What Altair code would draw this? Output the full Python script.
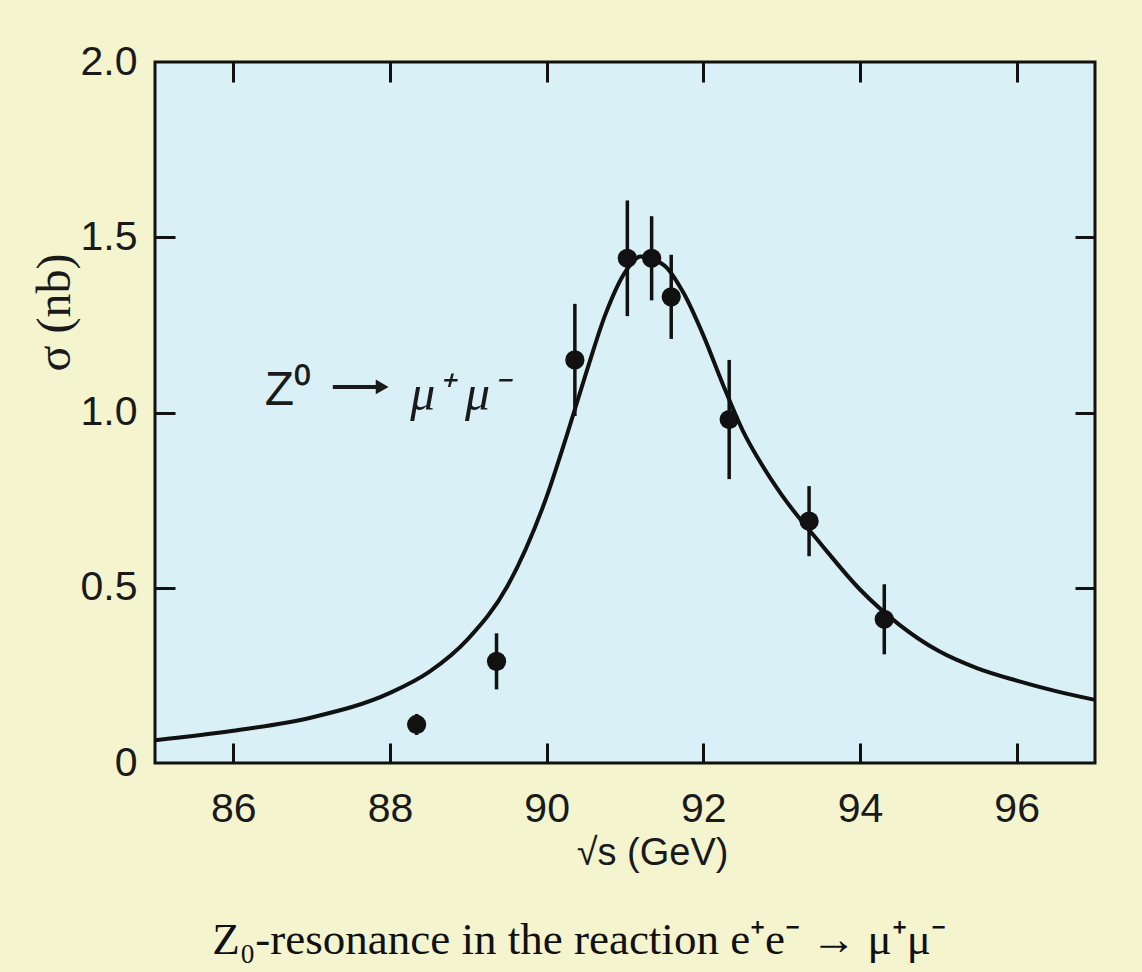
import altair as alt
import pandas as pd

# Measured muon-pair cross sections (sqrt(s) in GeV, sigma in nb, +/- error)
energy = [88.34, 89.36, 90.36, 91.03, 91.34, 91.59, 92.33, 93.35, 94.31]
sigma = [0.11, 0.29, 1.15, 1.44, 1.44, 1.33, 0.98, 0.69, 0.41]
sigma_err = [0.03, 0.08, 0.16, 0.165, 0.12, 0.12, 0.17, 0.10, 0.10]

# Fitted resonance line shape
curve_energy = [85.0, 86.0, 87.0, 88.0, 88.5, 89.0, 89.5, 90.0, 90.25, 90.5,
                90.75, 91.0, 91.2, 91.5, 91.75, 92.0, 92.25, 92.5, 92.75, 93.0,
                93.5, 94.0, 94.5, 95.0, 95.5, 96.0, 96.5, 97.0]
curve_sigma = [0.065, 0.092, 0.13, 0.20, 0.26, 0.355, 0.505, 0.76, 0.93, 1.11,
               1.28, 1.40, 1.445, 1.42, 1.34, 1.22, 1.08, 0.95, 0.85, 0.765,
               0.625, 0.495, 0.395, 0.32, 0.27, 0.235, 0.205, 0.18]

x_ticks = [86, 88, 90, 92, 94, 96]
y_ticks = [0, 0.5, 1.0, 1.5, 2.0]
y_inner_ticks = [0.5, 1.0, 1.5]

points = pd.DataFrame({
    "E": energy,
    "S": sigma,
    "lo": [s - e for s, e in zip(sigma, sigma_err)],
    "hi": [s + e for s, e in zip(sigma, sigma_err)],
})
curve = pd.DataFrame({"E": curve_energy, "S": curve_sigma})

INK = "#111111"
LABEL_FONT = "Liberation Sans Narrow, Arial Narrow, Liberation Sans, sans-serif"
SERIF = "Liberation Serif, Times New Roman, serif"

xs = alt.Scale(domain=[85, 97], nice=False, zero=False)
ys = alt.Scale(domain=[0, 2.0], nice=False, zero=True)

TICK_LEN = 20

# Axes that carry labels and titles (no ticks, no domain: the frame is the view stroke)
x_label_axis = alt.Axis(
    values=x_ticks, orient="bottom", domain=False, ticks=False, tickSize=0,
    grid=False, labelPadding=26, labelFont=LABEL_FONT, labelFontSize=41,
    labelColor="#1a1a1a", title="√s (GeV)", titleFont=LABEL_FONT, titleFontSize=38,
    titleFontWeight="normal", titleColor="#1a1a1a", titleX=497, titleY=90,
    titleBaseline="middle", titleAlign="center",
)
y_label_axis = alt.Axis(
    values=y_ticks, orient="left", domain=False, ticks=False, tickSize=0,
    grid=False, labelPadding=18, labelFont=LABEL_FONT, labelFontSize=41,
    labelColor="#1a1a1a",
    labelExpr="datum.value == 0 ? '0' : format(datum.value, '.1f')",
    title="σ (nb)", titleFont=SERIF, titleFontSize=48, titleFontWeight="normal",
    titleColor="#1a1a1a", titleX=-100, titleY=250, titleAngle=270,
    titleAlign="center", titleBaseline="middle",
)


def inner_ticks(values, orient):
    # ticks pulled inside the frame by offsetting the axis line inward
    return alt.Axis(
        values=values, orient=orient, offset=-TICK_LEN, domain=False,
        labels=False, ticks=True, tickSize=TICK_LEN, tickWidth=3,
        tickColor=INK, grid=False, title=None,
    )


line = alt.Chart(curve).mark_line(
    color=INK, strokeWidth=4, interpolate="monotone"
).encode(
    x=alt.X("E:Q", scale=xs, axis=x_label_axis),
    y=alt.Y("S:Q", scale=ys, axis=y_label_axis),
)

error_bars = alt.Chart(points).mark_rule(color=INK, strokeWidth=3.5).encode(
    x=alt.X("E:Q", scale=xs, axis=inner_ticks(x_ticks, "bottom")),
    y=alt.Y("lo:Q", scale=ys, axis=inner_ticks(y_inner_ticks, "left")),
    y2="hi:Q",
)

markers = alt.Chart(points).mark_circle(size=370, color=INK, opacity=1).encode(
    x=alt.X("E:Q", scale=xs, axis=inner_ticks(x_ticks, "top")),
    y=alt.Y("S:Q", scale=ys, axis=inner_ticks(y_inner_ticks, "right")),
)

# Reaction label inside the plot: Z0 -> mu+ mu-
label_z = alt.Chart(pd.DataFrame({"x": [86.4], "y": [1.06], "t": ["Z⁰"]})).mark_text(
    align="left", baseline="middle", font=LABEL_FONT, fontSize=48, color="#1a1a1a"
).encode(
    x=alt.X("x:Q", scale=xs, axis=None),
    y=alt.Y("y:Q", scale=ys, axis=None),
    text="t:N",
)

arrow_shaft = alt.Chart(pd.DataFrame({"x": [87.27], "x2": [87.85], "y": [1.073]})).mark_rule(
    color="#1a1a1a", strokeWidth=4
).encode(
    x=alt.X("x:Q", scale=xs, axis=None),
    x2="x2:Q",
    y=alt.Y("y:Q", scale=ys, axis=None),
)

arrow_head = alt.Chart(pd.DataFrame({"x": [87.9], "y": [1.073]})).mark_point(
    shape="triangle-right", filled=True, size=220, color="#1a1a1a", opacity=1
).encode(
    x=alt.X("x:Q", scale=xs, axis=None),
    y=alt.Y("y:Q", scale=ys, axis=None),
)

label_mu = alt.Chart(pd.DataFrame({"x": [88.26], "y": [1.05], "t": ["μ⁺ μ⁻"]})).mark_text(
    align="left", baseline="middle", font=SERIF, fontSize=50, fontStyle="italic",
    color="#1a1a1a"
).encode(
    x=alt.X("x:Q", scale=xs, axis=None),
    y=alt.Y("y:Q", scale=ys, axis=None),
    text="t:N",
)

chart = alt.layer(
    line, error_bars, markers, label_z, arrow_shaft, arrow_head, label_mu
).resolve_axis(
    x="independent", y="independent"
).resolve_scale(
    x="shared", y="shared"
).properties(
    width=940,
    height=701,
    autosize=alt.AutoSizeParams(type="none"),
    padding={"left": 155, "top": 62, "right": 47, "bottom": 209},
    background="#f4f4cf",
    title=alt.TitleParams(
        text="Z₀-resonance in the reaction e⁺e⁻ → μ⁺μ⁻",
        orient="bottom", anchor="middle", frame="group", dx=-46, offset=46,
        font=SERIF, fontSize=45, fontWeight="normal", color="#111",
    ),
).configure_view(
    fill="#d8f0f6", stroke=INK, strokeWidth=3
)

chart.save("out.html", embed_options={"renderer": "svg", "actions": False})
